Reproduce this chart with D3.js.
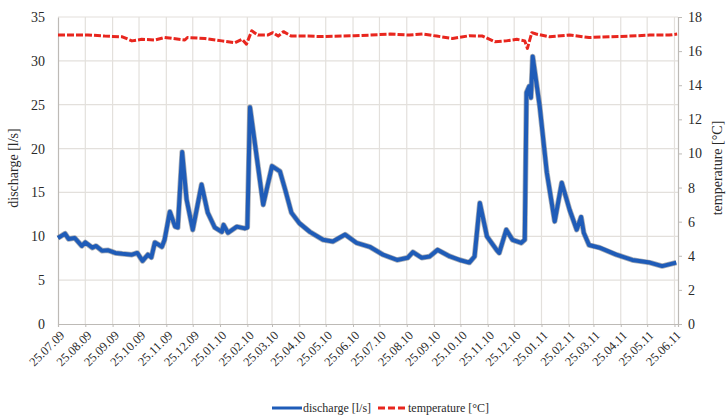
<!DOCTYPE html>
<html>
<head>
<meta charset="utf-8">
<script src="https://cdn.jsdelivr.net/npm/d3@7"></script>
<style>
  body { margin: 0; background: #fff; }
  text { font-family: "Liberation Serif", "DejaVu Serif", serif; }
</style>
</head>
<body>
<div id="chart"></div>
<script>
// Discharge readings [date, l/s]
var dischargeData = [
    ["2009-07-25", 9.8], ["2009-08-02", 10.3], ["2009-08-06", 9.7], ["2009-08-13", 9.8],
    ["2009-08-21", 8.9], ["2009-08-25", 9.3], ["2009-09-02", 8.7], ["2009-09-06", 8.9],
    ["2009-09-13", 8.35], ["2009-09-20", 8.4], ["2009-09-28", 8.1], ["2009-10-06", 8.0],
    ["2009-10-17", 7.9], ["2009-10-23", 8.1], ["2009-10-29", 7.2], ["2009-11-04", 7.9],
    ["2009-11-08", 7.6], ["2009-11-12", 9.3], ["2009-11-20", 8.8], ["2009-11-23", 9.6],
    ["2009-11-29", 12.8], ["2009-12-05", 11.1], ["2009-12-08", 11.0], ["2009-12-13", 19.6],
    ["2009-12-18", 14.2], ["2009-12-25", 10.75], ["2010-01-04", 15.9], ["2010-01-11", 12.7],
    ["2010-01-19", 11.0], ["2010-01-27", 10.5], ["2010-01-29", 11.3], ["2010-02-03", 10.4],
    ["2010-02-13", 11.1], ["2010-02-22", 10.9], ["2010-02-25", 11.0], ["2010-02-28", 24.7],
    ["2010-03-15", 13.6], ["2010-03-25", 18.0], ["2010-04-03", 17.4], ["2010-04-09", 15.3],
    ["2010-04-16", 12.7], ["2010-04-25", 11.5], ["2010-05-07", 10.5], ["2010-05-22", 9.6],
    ["2010-06-02", 9.4], ["2010-06-16", 10.2], ["2010-06-29", 9.25], ["2010-07-14", 8.8],
    ["2010-07-29", 7.9], ["2010-08-14", 7.3], ["2010-08-26", 7.55], ["2010-09-01", 8.2],
    ["2010-09-11", 7.55], ["2010-09-20", 7.7], ["2010-09-29", 8.45], ["2010-10-13", 7.7],
    ["2010-10-24", 7.3], ["2010-11-04", 7.0], ["2010-11-10", 7.7], ["2010-11-16", 13.8],
    ["2010-11-24", 10.0], ["2010-12-05", 8.45], ["2010-12-08", 8.1], ["2010-12-16", 10.75],
    ["2010-12-23", 9.6], ["2011-01-02", 9.25], ["2011-01-06", 9.6], ["2011-01-08", 26.4],
    ["2011-01-11", 27.1], ["2011-01-13", 25.8], ["2011-01-15", 30.5], ["2011-01-23", 24.8],
    ["2011-01-31", 17.3], ["2011-02-09", 11.7], ["2011-02-17", 16.1], ["2011-02-26", 13.0],
    ["2011-03-06", 10.75], ["2011-03-11", 12.2], ["2011-03-14", 10.4], ["2011-03-20", 9.0],
    ["2011-04-01", 8.7], ["2011-04-20", 7.9], ["2011-05-08", 7.3], ["2011-05-28", 7.0],
    ["2011-06-11", 6.6], ["2011-06-27", 7.0]
];

// Water temperature readings [date, °C]
var temperatureData = [
    ["2009-07-25", 16.95], ["2009-08-28", 16.95], ["2009-09-16", 16.88], ["2009-10-06", 16.84],
    ["2009-10-17", 16.6], ["2009-10-28", 16.69], ["2009-11-12", 16.65], ["2009-11-23", 16.8],
    ["2009-12-16", 16.65], ["2009-12-19", 16.8], ["2010-01-08", 16.74], ["2010-01-27", 16.6],
    ["2010-02-11", 16.49], ["2010-02-19", 16.69], ["2010-02-24", 16.41], ["2010-03-02", 17.19],
    ["2010-03-09", 16.94], ["2010-03-20", 16.94], ["2010-03-26", 17.08], ["2010-04-01", 16.88],
    ["2010-04-07", 17.14], ["2010-04-16", 16.88], ["2010-05-05", 16.88], ["2010-05-20", 16.85],
    ["2010-06-27", 16.9], ["2010-07-14", 16.94], ["2010-08-06", 17.0], ["2010-08-28", 16.94],
    ["2010-09-12", 17.0], ["2010-09-28", 16.88], ["2010-10-16", 16.74], ["2010-11-04", 16.9],
    ["2010-11-19", 16.88], ["2010-12-03", 16.55], ["2010-12-16", 16.6], ["2010-12-28", 16.69],
    ["2011-01-06", 16.6], ["2011-01-09", 16.16], ["2011-01-14", 17.08], ["2011-01-19", 17.0],
    ["2011-02-03", 16.84], ["2011-02-26", 16.94], ["2011-03-20", 16.8], ["2011-04-12", 16.84],
    ["2011-05-05", 16.88], ["2011-05-28", 16.94], ["2011-06-19", 16.94], ["2011-06-28", 17.0]
];

var xTickLabels = ["25.07.09", "25.08.09", "25.09.09", "25.10.09", "25.11.09", "25.12.09",
    "25.01.10", "25.02.10", "25.03.10", "25.04.10", "25.05.10", "25.06.10", "25.07.10",
    "25.08.10", "25.09.10", "25.10.10", "25.11.10", "25.12.10", "25.01.11", "25.02.11",
    "25.03.11", "25.04.11", "25.05.11", "25.06.11"];
var dischargeTicks = [0, 5, 10, 15, 20, 25, 30, 35];
var temperatureTicks = [0, 2, 4, 6, 8, 10, 12, 14, 16, 18];

var serif = "'Liberation Serif', 'DejaVu Serif', serif";
var parseDate = d3.timeParse("%Y-%m-%d");
var parseTick = d3.timeParse("%d.%m.%y");

var margin = { top: 17, right: 49, bottom: 94, left: 58 },
    width = 727 - margin.left - margin.right,
    height = 418 - margin.top - margin.bottom;

var svg = d3.select("#chart")
    .append("svg")
    .attr("width", 727)
    .attr("height", 418);

var g = svg.append("g")
    .attr("transform", "translate(" + margin.left + "," + margin.top + ")");

var x = d3.scaleTime()
    .domain([parseDate("2009-07-25"), parseDate("2011-06-29")])
    .range([0, width]);
var yL = d3.scaleLinear().domain([0, 35]).range([height, 0]);
var yR = d3.scaleLinear().domain([0, 18]).range([height, 0]);

var tickDates = xTickLabels.map(parseTick);

// Grid lines
g.append("g")
    .selectAll("line")
    .data(dischargeTicks.slice(1))
    .enter().append("line")
    .attr("x1", 0).attr("x2", width)
    .attr("y1", d => yL(d)).attr("y2", d => yL(d))
    .style("stroke", "#e3e0dc").style("stroke-width", 1.2);

g.append("g")
    .selectAll("line")
    .data(tickDates.slice(1))
    .enter().append("line")
    .attr("x1", d => x(d)).attr("x2", d => x(d))
    .attr("y1", 0).attr("y2", height)
    .style("stroke", "#e3e0dc").style("stroke-width", 1.2);

// Axes
var xAxis = g.append("g")
    .attr("transform", "translate(0," + height + ")")
    .attr("font-family", serif)
    .call(d3.axisBottom(x).tickValues(tickDates).tickFormat(d3.timeFormat("%d.%m.%y")).tickSize(3).tickPadding(4));
xAxis.selectAll("text")
    .attr("transform", "rotate(-45)")
    .attr("dx", "-0.3em")
    .attr("dy", "0.5em")
    .style("text-anchor", "end")
    .style("font-family", serif)
    .style("font-size", "12.5px")
    .style("fill", "#2a2a2a");

var leftAxis = g.append("g")
    .call(d3.axisLeft(yL).tickValues(dischargeTicks).tickSize(0).tickPadding(13));
leftAxis.selectAll("text").style("font-family", serif).style("font-size", "14px").style("fill", "#2a2a2a");

var rightAxis = g.append("g")
    .attr("transform", "translate(" + width + ",0)")
    .call(d3.axisRight(yR).tickValues(temperatureTicks).tickSize(4).tickPadding(6));
rightAxis.selectAll("text").style("font-family", serif).style("font-size", "14px").style("fill", "#2a2a2a");

g.selectAll(".domain").style("stroke", "#bdbab6").style("stroke-width", 1.2);
g.selectAll(".tick line").style("stroke", "#bdbab6");

// Lines
var dischargeLine = d3.line()
    .x(d => x(parseDate(d[0])))
    .y(d => yL(d[1]));
var temperatureLine = d3.line()
    .x(d => x(parseDate(d[0])))
    .y(d => yR(d[1]));

g.append("path")
    .datum(dischargeData)
    .attr("d", dischargeLine)
    .style("fill", "none")
    .style("stroke", "#3d4a5c")
    .style("stroke-width", 5.5)
    .style("stroke-linejoin", "round")
    .style("opacity", 0.45);

g.append("path")
    .datum(dischargeData)
    .attr("d", dischargeLine)
    .style("fill", "none")
    .style("stroke", "#1f5cb8")
    .style("stroke-width", 4)
    .style("stroke-linejoin", "round");

g.append("path")
    .datum(temperatureData)
    .attr("d", temperatureLine)
    .style("fill", "none")
    .style("stroke", "#e8261e")
    .style("stroke-width", 3)
    .style("stroke-dasharray", "7,2")
    .style("stroke-linejoin", "round");

// Axis titles
svg.append("text")
    .attr("transform", "translate(18,168) rotate(-90)")
    .attr("text-anchor", "middle")
    .style("font-size", "14px")
    .style("fill", "#2a2a2a")
    .text("discharge [l/s]");

svg.append("text")
    .attr("transform", "translate(722,168) rotate(-90)")
    .attr("text-anchor", "middle")
    .style("font-size", "14px")
    .style("fill", "#2a2a2a")
    .text("temperature [°C]");

// Legend
var legend = svg.append("g").attr("transform", "translate(0,408)");
legend.append("line")
    .attr("x1", 272).attr("x2", 302).attr("y1", 0).attr("y2", 0)
    .style("stroke", "#1f5cb8").style("stroke-width", 3);
legend.append("text")
    .attr("x", 303).attr("y", 4)
    .style("font-size", "12px").style("fill", "#2a2a2a")
    .text("discharge [l/s]");
legend.append("line")
    .attr("x1", 378).attr("x2", 406).attr("y1", 0).attr("y2", 0)
    .style("stroke", "#e8261e").style("stroke-width", 3)
    .style("stroke-dasharray", "7,3");
legend.append("text")
    .attr("x", 408).attr("y", 4)
    .style("font-size", "12px").style("fill", "#2a2a2a")
    .text("temperature [°C]");
</script>
</body>
</html>
